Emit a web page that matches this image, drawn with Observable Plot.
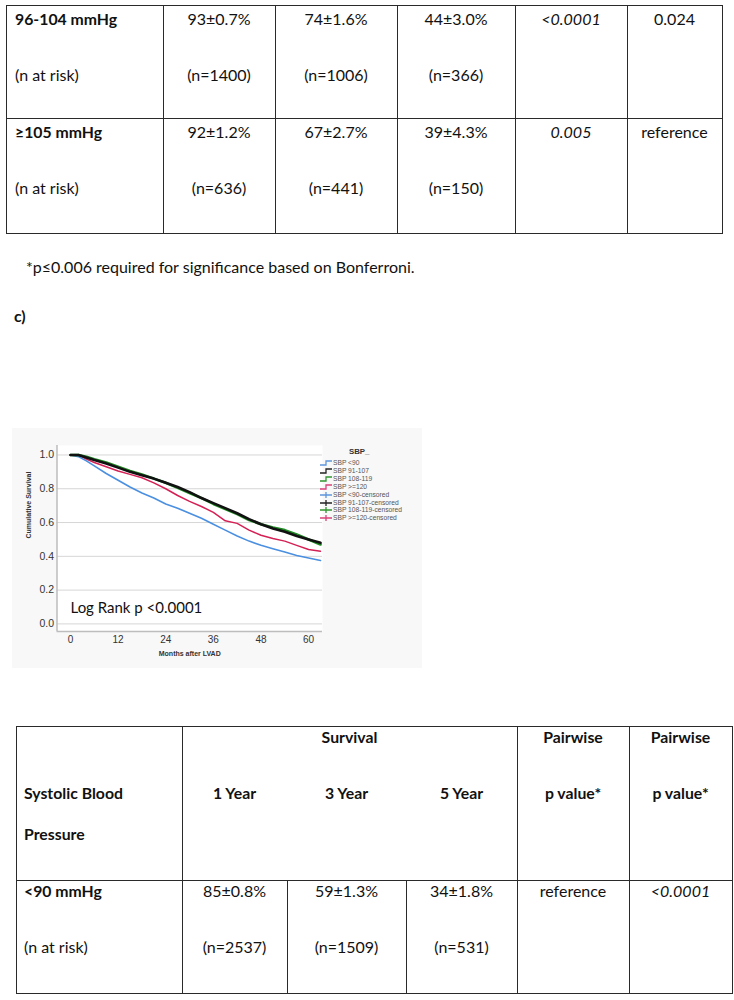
<!DOCTYPE html>
<html><head><meta charset="utf-8">
<script src="https://cdn.jsdelivr.net/npm/d3@7"></script>
<script src="https://cdn.jsdelivr.net/npm/@observablehq/plot@0.6"></script>
<style>
body{margin:0;background:#fff;}
#page{position:relative;width:734px;height:1000px;overflow:hidden;font-family:Lato,"Noto Sans",sans-serif;color:#111;}
.t{position:absolute;white-space:nowrap;font-size:16px;line-height:1;}
.l{transform:translateY(-50%);}
.c{transform:translate(-50%,-50%);}
.b{font-weight:bold;font-size:15.8px;}
.i{font-style:italic;}
.hl{position:absolute;height:0;border-top:1.2px solid #2a2a2a;}
.vl{position:absolute;width:0;border-left:1.2px solid #2a2a2a;}
#chartbg{position:absolute;left:12px;top:428px;width:410px;height:240px;background:#f8f8f8;}
#chart{position:absolute;left:12px;top:428px;}
.lg{position:absolute;font-family:"Liberation Sans",Arial,sans-serif;font-size:6.7px;color:#555;white-space:nowrap;line-height:1;transform:translateY(-50%);}
.sw{position:absolute;left:320px;width:13px;height:8px;}
</style></head><body>
<div id="page"><div id="chartbg"></div><div id="chart"></div></div>
<script>
// ---------- table data ----------
const topRowLabels = ["96-104 mmHg", "\u2265105 mmHg"];
const topSurvival = [["93\u00b10.7%", "74\u00b11.6%", "44\u00b13.0%"], ["92\u00b11.2%", "67\u00b12.7%", "39\u00b14.3%"]];
const topAtRisk = [["(n=1400)", "(n=1006)", "(n=366)"], ["(n=636)", "(n=441)", "(n=150)"]];
const topP1 = ["<0.0001", "0.005"];
const topP2 = ["0.024", "reference"];
const footnote = "*p\u22640.006 required for significance based on Bonferroni.";
const sectionLabel = "c)";
const bottomHeader = ["Survival", "1 Year", "3 Year", "5 Year", "Pairwise", "p value*"];
const bottomRowLabel = "<90 mmHg";
const bottomSurvival = ["85\u00b10.8%", "59\u00b11.3%", "34\u00b11.8%"];
const bottomAtRisk = ["(n=2537)", "(n=1509)", "(n=531)"];
const bottomP = ["reference", "<0.0001"];

// ---------- chart data ----------
const months = [0, 2, 4, 6, 9, 12, 15, 18, 21, 24, 27, 30, 33, 36, 39, 42, 45, 48, 51, 54, 57, 60, 63];
const sbpLt90 = [1.0, 0.99, 0.965, 0.935, 0.89, 0.85, 0.81, 0.775, 0.745, 0.71, 0.685, 0.655, 0.625, 0.59, 0.555, 0.52, 0.49, 0.465, 0.445, 0.425, 0.405, 0.39, 0.375];
const sbp91to107 = [1.0, 1.0, 0.985, 0.97, 0.95, 0.925, 0.9, 0.88, 0.86, 0.835, 0.81, 0.78, 0.745, 0.715, 0.685, 0.655, 0.62, 0.59, 0.565, 0.545, 0.52, 0.5, 0.48];
const sbp108to119 = [1.0, 1.0, 0.99, 0.975, 0.955, 0.93, 0.905, 0.885, 0.86, 0.835, 0.805, 0.775, 0.745, 0.71, 0.68, 0.65, 0.615, 0.59, 0.57, 0.555, 0.53, 0.5, 0.47];
const sbpGe120 = [1.0, 1.0, 0.975, 0.955, 0.93, 0.905, 0.885, 0.865, 0.835, 0.8, 0.76, 0.725, 0.695, 0.66, 0.61, 0.595, 0.555, 0.525, 0.505, 0.49, 0.465, 0.44, 0.43];
const groupNames = ["SBP <90", "SBP 91-107", "SBP 108-119", "SBP >=120"];
const groupColors = ["#4a8fe0", "#111111", "#1f8c24", "#d42054"];
const legendColors = ["#5f95dc", "#222222", "#2f952f", "#d8407a"];
const legendLabels = ["SBP <90", "SBP 91-107", "SBP 108-119", "SBP >=120", "SBP <90-censored", "SBP 91-107-censored", "SBP 108-119-censored", "SBP >=120-censored"];
const xTicks = [0, 12, 24, 36, 48, 60];
const yTicks = [0, 0.2, 0.4, 0.6, 0.8, 1.0];
const annotation = ["Log Rank p <0.0001"];

// ---------- page helpers ----------
const page = document.getElementById("page");
function txt(s, x, y, cls) {
  const d = document.createElement("div");
  d.className = "t " + cls;
  d.style.left = x + "px"; d.style.top = y + "px";
  d.textContent = s; page.appendChild(d); return d;
}
function hline(x1, x2, y) { const d = document.createElement("div"); d.className = "hl"; d.style.left = x1 + "px"; d.style.width = (x2 - x1) + "px"; d.style.top = y + "px"; page.appendChild(d); }
function vline(x, y1, y2) { const d = document.createElement("div"); d.className = "vl"; d.style.left = x + "px"; d.style.height = (y2 - y1) + "px"; d.style.top = y1 + "px"; page.appendChild(d); }

// top table
const tCols = [6, 163, 275, 397, 515, 627, 722];
const tRows = [5, 118, 233];
tRows.forEach(y => hline(tCols[0], tCols[6] + 1, y));
tCols.forEach(x => vline(x, tRows[0], tRows[2]));
const mid = (a, b) => (a + b) / 2;
for (let r = 0; r < 2; r++) {
  const top = [5, 118][r];
  txt(topRowLabels[r], 15, top + 14, "l b");
  txt("(n at risk)", 15, top + 70, "l");
  for (let c = 0; c < 3; c++) {
    txt(topSurvival[r][c], mid(tCols[c + 1], tCols[c + 2]), top + 14, "c");
    txt(topAtRisk[r][c], mid(tCols[c + 1], tCols[c + 2]), top + 70, "c");
  }
  txt(topP1[r], mid(tCols[4], tCols[5]), top + 14, "c i");
  txt(topP2[r], mid(tCols[5], tCols[6]), top + 14, "c");
}
txt(footnote, 26, 267, "l");
txt(sectionLabel, 14, 316, "l b");

// bottom table
const bCols = [16, 182, 287, 406, 517, 629, 732];
const bRows = [726, 880, 993];
bRows.forEach(y => hline(bCols[0], bCols[6] + 1, y));
[0, 1, 4, 5, 6].forEach(i => vline(bCols[i], bRows[0], bRows[2]));
[2, 3].forEach(i => vline(bCols[i], bRows[1], bRows[2]));
const h0 = bRows[0];
txt(bottomHeader[0], mid(bCols[1], bCols[4]), h0 + 11, "c b");
txt(bottomHeader[1], mid(bCols[1], bCols[2]), h0 + 67, "c b");
txt(bottomHeader[2], mid(bCols[2], bCols[3]), h0 + 67, "c b");
txt(bottomHeader[3], mid(bCols[3], bCols[4]), h0 + 67, "c b");
[4, 5].forEach(i => { txt(bottomHeader[4], mid(bCols[i], bCols[i + 1]), h0 + 11, "c b"); txt(bottomHeader[5], mid(bCols[i], bCols[i + 1]), h0 + 67, "c b"); });
txt("Systolic Blood", 24, h0 + 67, "l b");
txt("Pressure", 24, h0 + 108, "l b");
const r0 = bRows[1];
txt(bottomRowLabel, 24, r0 + 11, "l b");
txt("(n at risk)", 24, r0 + 67, "l");
for (let c = 0; c < 3; c++) {
  txt(bottomSurvival[c], mid(bCols[c + 1], bCols[c + 2]), r0 + 11, "c");
  txt(bottomAtRisk[c], mid(bCols[c + 1], bCols[c + 2]), r0 + 67, "c");
}
txt(bottomP[0], mid(bCols[4], bCols[5]), r0 + 11, "c");
txt(bottomP[1], mid(bCols[5], bCols[6]), r0 + 11, "c i");

// ---------- chart ----------
const seriesValues = [sbpLt90, sbp91to107, sbp108to119, sbpGe120];
const data = groupNames.flatMap((g, gi) => months.map((m, i) => ({ month: m, surv: seriesValues[gi][i], group: g })));
const drawOrder = ["SBP <90", "SBP >=120", "SBP 108-119", "SBP 91-107"];
const widths = { "SBP <90": 1.6, "SBP >=120": 1.5, "SBP 108-119": 2.6, "SBP 91-107": 2.6 };
const xDom = [-3.4, 63.5], yDom = [-0.045, 1.056];
const chart = Plot.plot({
  width: 410, height: 240,
  marginLeft: 44.5, marginRight: 100, marginTop: 17, marginBottom: 37,
  style: { background: "transparent", fontFamily: "'Liberation Sans', Arial, sans-serif", fontSize: "10px", color: "#333", overflow: "visible" },
  x: { domain: xDom },
  y: { domain: yDom },
  color: { domain: groupNames, range: groupColors },
  marks: [
    Plot.frame({ fill: "#fff", stroke: null }),
    Plot.gridY(yTicks, { stroke: "#d6d6d6", strokeOpacity: 1, strokeWidth: 1 }),
    Plot.ruleX([xDom[0]], { stroke: "#bdbdbd", strokeWidth: 1.5 }),
    Plot.ruleY([yDom[0]], { stroke: "#bdbdbd", strokeWidth: 1.5 }),
    ...drawOrder.map(g => Plot.line(data.filter(d => d.group === g), { x: "month", y: "surv", stroke: "group", strokeWidth: widths[g] })),
    Plot.axisX(xTicks, { tickSize: 0, tickPadding: 4, label: null, fill: "#333" }),
    Plot.axisY(yTicks, { tickSize: 0, tickPadding: 3, tickFormat: d3.format(".1f"), label: null, fill: "#333", fontSize: 10.5 }),
    Plot.text(annotation, { x: 0, y: 0.092, text: d => d, textAnchor: "start", fontSize: 15, fill: "#111", fontFamily: "Lato, 'Noto Sans', sans-serif" }),
    Plot.text(["Cumulative Survival"], { frameAnchor: "left", rotate: -90, dx: -28, fontSize: 7, fontWeight: "bold", fill: "#333", text: d => d }),
    Plot.text(["Months after LVAD"], { frameAnchor: "bottom", dy: 24, fontSize: 7, fontWeight: "bold", fill: "#333", text: d => d })
  ]
});
document.getElementById("chart").appendChild(chart);

// legend
const lgTitle = document.createElement("div");
lgTitle.className = "lg"; lgTitle.style.left = "349px"; lgTitle.style.top = "452px";
lgTitle.style.fontWeight = "bold"; lgTitle.style.fontSize = "7.8px"; lgTitle.style.color = "#333";
lgTitle.textContent = "SBP_"; page.appendChild(lgTitle);
const NS = "http://www.w3.org/2000/svg";
legendLabels.forEach((lab, i) => {
  const y = 463.3 + 7.85 * i;
  const col = legendColors[i % 4];
  const sv = document.createElementNS(NS, "svg");
  sv.setAttribute("width", "13"); sv.setAttribute("height", "8");
  sv.setAttribute("class", "sw"); sv.style.top = Math.round(y - 4) + "px";
  const p = document.createElementNS(NS, "path");
  p.setAttribute("d", i < 4 ? "M0,6H6V2H12" : "M0,4H12M6,1V7");
  p.setAttribute("fill", "none"); p.setAttribute("stroke", col); p.setAttribute("stroke-width", "1.3");
  sv.appendChild(p);
  page.appendChild(sv);
  const d = document.createElement("div");
  d.className = "lg"; d.style.left = "333px"; d.style.top = y + "px"; d.textContent = lab;
  page.appendChild(d);
});
</script>
</body></html>
